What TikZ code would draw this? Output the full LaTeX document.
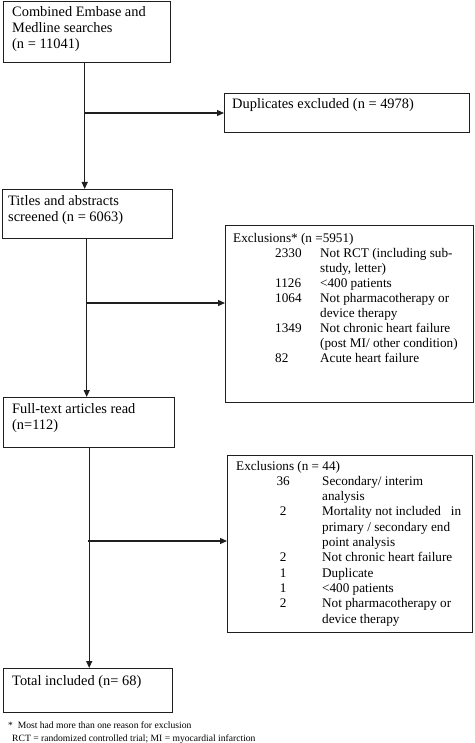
\documentclass[tikz,border=0pt]{standalone}
\usepackage{fontspec}
\setmainfont{Liberation Serif}
\usepackage{array}
\usetikzlibrary{arrows.meta}
\tikzset{
  box/.style={draw=black!88, line width=1.4pt, rectangle, inner sep=0pt, anchor=north west},
  txt/.style={inner sep=0pt, anchor=base west, font=\fontsize{14.4}{16}\selectfont},
  small/.style={inner sep=0pt, anchor=base west, font=\fontsize{13.2}{15.1}\selectfont},
  note/.style={inner sep=0pt, anchor=base west, font=\fontsize{9.6}{11}\selectfont},
  arr/.style={draw=black!88, line width=1.2pt, -{Triangle[length=7pt,width=6pt]}},
  ln/.style={draw=black!88, line width=1.2pt}
}
\begin{document}
\begin{tikzpicture}[x=1pt,y=-1pt]
\useasboundingbox (0,0) rectangle (474,743);
% boxes
\node[box, minimum width=167pt, minimum height=61pt] (b1) at (3,1) {};
\node[box, minimum width=245pt, minimum height=39pt] (dup) at (224,93) {};
\node[box, minimum width=170pt, minimum height=49pt] (tit) at (2,189) {};
\node[box, minimum width=248pt, minimum height=177pt] (ex1) at (225,225) {};
\node[box, minimum width=171pt, minimum height=50pt] (full) at (3,397) {};
\node[box, minimum width=245pt, minimum height=177pt] (ex2) at (227,455) {};
\node[box, minimum width=169pt, minimum height=44pt] (tot) at (3,668) {};
% texts
\node[txt] (t1) at (12,17) {\begin{tabular}[t]{@{}l@{}}Combined Embase and\\Medline searches\\(n = 11041)\end{tabular}};
\node[txt] (tdup) at (232,109) {Duplicates excluded (n = 4978)};
\node[txt] (ttit) at (8,206) {\begin{tabular}[t]{@{}l@{}}Titles and abstracts\\screened (n = 6063)\end{tabular}};
\node[small] (tex1) at (233,242) {\begin{tabular}[t]{@{}p{42pt}@{}p{45pt}@{}l@{}}
\multicolumn{3}{@{}l@{}}{Exclusions* (n =5951)}\\
 & 2330 & Not RCT (including sub-\\
 & & study, letter)\\
 & 1126 & <400 patients\\
 & 1064 & Not pharmacotherapy or\\
 & & device therapy\\
 & 1349 & Not chronic heart failure\\
 & & (post MI/ other condition)\\
 & 82 & Acute heart failure
\end{tabular}};
\node[txt] (tfull) at (12,413) {\begin{tabular}[t]{@{}l@{}}Full-text articles read\\(n=112)\end{tabular}};
\node[small, font=\fontsize{13.2}{15.3}\selectfont] (tex2) at (236,470) {\begin{tabular}[t]{@{}p{28pt}@{}>{\centering\arraybackslash}p{38pt}@{}p{20pt}@{}l@{}}
\multicolumn{4}{@{}l@{}}{Exclusions (n = 44)}\\
 & 36 & & Secondary/ interim\\
 & & & analysis\\
 & 2 & & Mortality not included\ \ \ in\\
 & & & primary / secondary end\\
 & & & point analysis\\
 & 2 & & Not chronic heart failure\\
 & 1 & & Duplicate\\
 & 1 & & <400 patients\\
 & 2 & & Not pharmacotherapy or\\
 & & & device therapy
\end{tabular}};
\node[txt] (ttot) at (12,685) {Total included (n= 68)};
\node[note] (n1) at (8,728) {*\ \ Most had more than one reason for exclusion};
\node[note] (n2) at (12,741) {RCT = randomized controlled trial; MI = myocardial infarction};
% connectors
\draw[arr] ([xshift=-2.5pt]b1.south) -- ([xshift=-2.5pt]b1.south |- tit.north);
\coordinate (j1) at (84,113);
\draw[arr] (j1) -- (j1 -| dup.west);
\draw[arr] ([xshift=-1pt]tit.south) -- ([xshift=-1pt]tit.south |- full.north);
\coordinate (j2) at (86,303);
\draw[arr] (j2) -- (j2 -| ex1.west);
\draw[arr] (full.south) -- (full.south |- tot.north);
\coordinate (j3) at (88,541);
\draw[arr] (j3) -- (j3 -| ex2.west);
\end{tikzpicture}
\end{document}
